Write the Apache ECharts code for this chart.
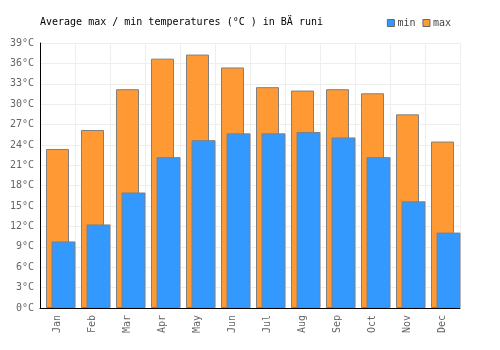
<!DOCTYPE html>
<html>
<head>
    <meta charset="UTF-8">
    <title>Average temperatures</title>
    <script src="https://cdn.jsdelivr.net/npm/echarts@6/dist/echarts.min.js"></script>
    <style>
        body { margin: 0; background: #fff; }
        #chart { width: 500px; height: 350px; }
    </style>
</head>
<body>
    <div id="chart"></div>
    <script>
        var months = ['Jan', 'Feb', 'Mar', 'Apr', 'May', 'Jun', 'Jul', 'Aug', 'Sep', 'Oct', 'Nov', 'Dec'];
        var maxTemps = [23.4, 26.2, 32.2, 36.7, 37.3, 35.4, 32.5, 32.0, 32.2, 31.6, 28.5, 24.5];
        var minTemps = [9.8, 12.3, 17.0, 22.2, 24.7, 25.7, 25.7, 25.9, 25.1, 22.2, 15.7, 11.1];
        var yTicks = [0, 3, 6, 9, 12, 15, 18, 21, 24, 27, 30, 33, 36, 39];

        var font = 'DejaVu Sans Mono';
        var chart = echarts.init(document.getElementById('chart'), null, {renderer: 'canvas'});

        // min bars sit in a second grid shifted 6px right, so they overlap the max bars
        chart.setOption({
            animation: false,
            title: {
                text: 'Average max / min temperatures (°C ) in BÄ runi',
                left: 35, top: 12,
                textStyle: {fontFamily: font, fontSize: 10, fontWeight: 'normal', color: '#000'}
            },
            legend: {
                right: 44, top: 13,
                itemWidth: 7, itemHeight: 7, itemGap: 7,
                textStyle: {fontFamily: font, fontSize: 10, color: '#444', padding: [0, 0, 0, -2]},
                data: [
                    {name: 'min', icon: 'rect', itemStyle: {color: '#3399ff', borderColor: '#666', borderWidth: 1}},
                    {name: 'max', icon: 'rect', itemStyle: {color: '#ff9933', borderColor: '#666', borderWidth: 1}}
                ]
            },
            grid: [
                {left: 40, right: 40, top: 43, bottom: 42},
                {left: 46, right: 34, top: 43, bottom: 42}
            ],
            xAxis: [{
                type: 'category', gridIndex: 0, data: months,
                axisLine: {lineStyle: {color: '#000', width: 1}},
                axisTick: {show: false},
                splitLine: {show: true, lineStyle: {color: '#eee'}},
                axisLabel: {rotate: 90, fontFamily: font, fontSize: 10, color: '#666', margin: 7}
            }, {
                type: 'category', gridIndex: 1, data: months, show: false
            }],
            yAxis: [{
                type: 'value', gridIndex: 0, min: 0, max: 39, interval: 3,
                axisLine: {show: true, lineStyle: {color: '#000', width: 1}},
                axisTick: {show: false},
                splitLine: {lineStyle: {color: '#eee'}},
                axisLabel: {
                    fontFamily: font, fontSize: 10, color: '#666', margin: 6,
                    formatter: function (v) { return yTicks.indexOf(v) >= 0 ? v + '°C' : ''; }
                }
            }, {
                type: 'value', gridIndex: 1, min: 0, max: 39, interval: 3, show: false
            }],
            series: [{
                name: 'max', type: 'bar', xAxisIndex: 0, yAxisIndex: 0,
                data: maxTemps, barWidth: 23,
                itemStyle: {color: '#ff9933', borderColor: '#808080', borderWidth: 1}
            }, {
                name: 'min', type: 'bar', xAxisIndex: 1, yAxisIndex: 1,
                data: minTemps, barWidth: 24, z: 3,
                itemStyle: {color: '#3399ff', borderColor: '#808080', borderWidth: 1}
            }]
        });
    </script>
</body>
</html>
